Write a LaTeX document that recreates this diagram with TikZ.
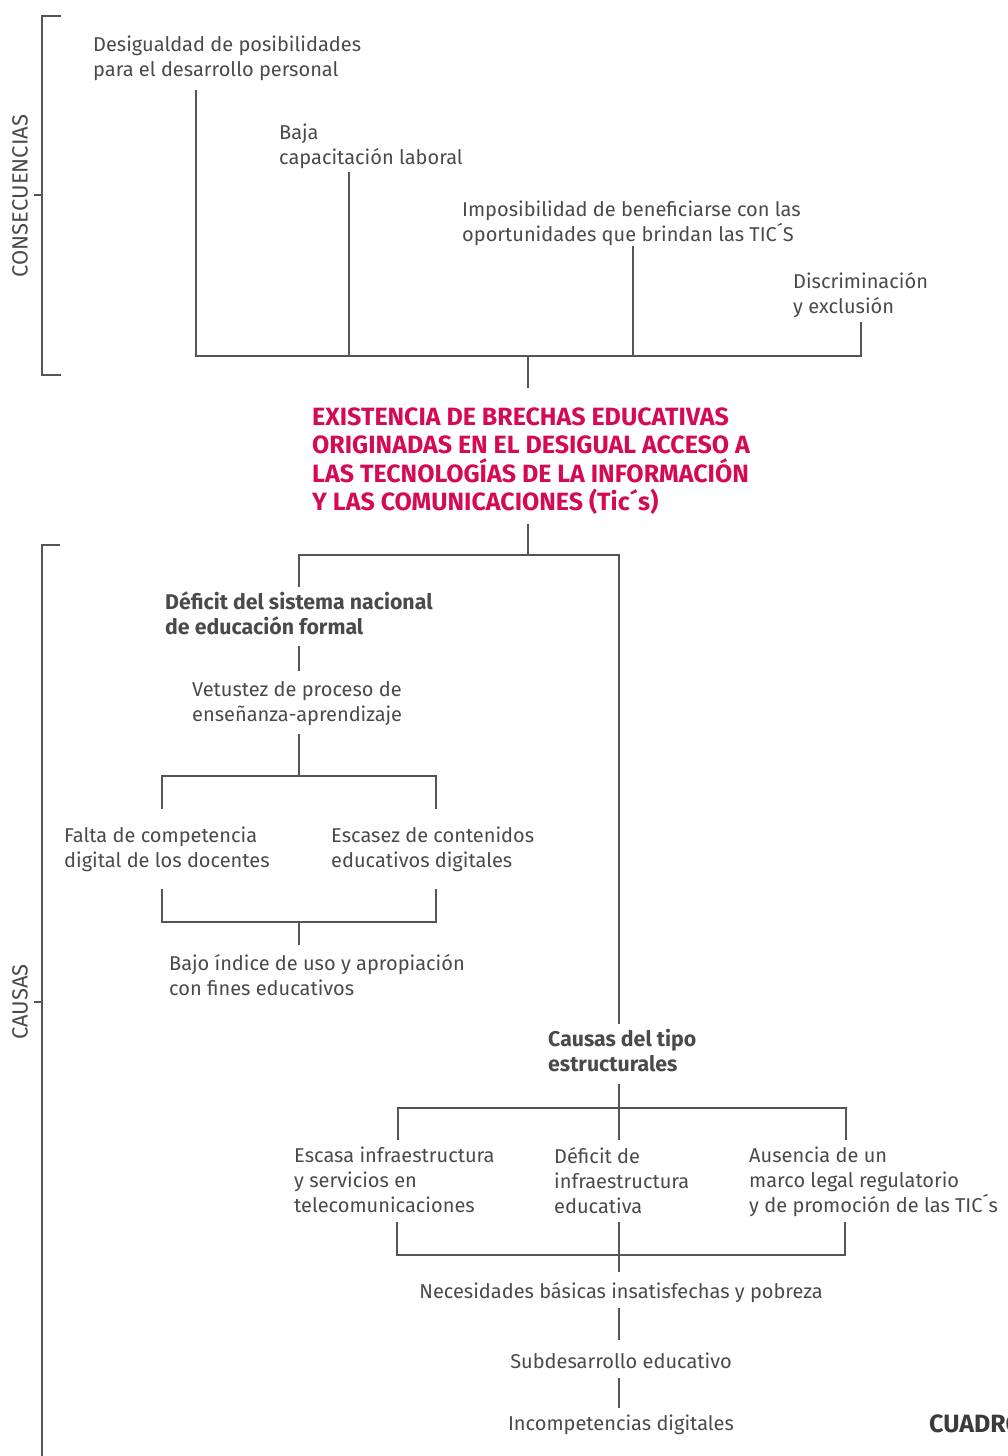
\documentclass[tikz,border=0pt]{standalone}
\usepackage{fontspec}
\setmainfont{Fira Sans}
\definecolor{ink}{HTML}{4A4A4A}
\definecolor{wire}{HTML}{555555}
\definecolor{accent}{HTML}{D50A55}
\begin{document}
\begin{tikzpicture}[x=1pt,y=-1pt,
  wirestyle/.style={draw=wire,line width=1.4pt},
  lbl/.style={anchor=north west,inner sep=0pt,align=left,text=ink,yshift=2.2pt,
    font=\fontsize{20}{25}\selectfont,execute at begin node=\rule{0pt}{13pt}},
  lblc/.style={lbl,anchor=north,align=center},
  lblb/.style={lbl,font=\fontsize{21.3}{25}\selectfont\bfseries,execute at begin node=\rule{0pt}{13.5pt}},
  headline/.style={anchor=north west,inner sep=0pt,align=left,text=accent,
    font=\fontsize{25}{28.5}\selectfont\bfseries},
  sidelbl/.style={rotate=90,inner sep=0pt,text=ink,font=\fontsize{22}{26}\selectfont}]
\useasboundingbox (0,0) rectangle (1008,1456);

% ---------- consequences ----------
\node[sidelbl] (conslbl) at (20,196) {CONSECUENCIAS};
\coordinate (bkTopA) at (61,16);
\coordinate (bkTopB) at (61,375);
\coordinate (bkTopM) at (34,195);
\draw[wirestyle] (bkTopA) -- (42,16) -- (42,375) -- (bkTopB);
\draw[wirestyle] (bkTopM) -- (42,195);

\node[lbl] (c1) at (93,38) {Desigualdad de posibilidades\\para el desarrollo personal};
\node[lbl] (c2) at (279,126) {Baja\\capacitación laboral};
\node[lbl] (c3) at (462,203) {Imposibilidad de beneficiarse con las\\oportunidades que brindan las TIC´S};
\node[lbl] (c4) at (793,274) {Discriminación\\y exclusión};

\coordinate (cA) at (196,90);
\coordinate (cB) at (349,172);
\coordinate (cC) at (633,246);
\coordinate (cD) at (861,322);
\coordinate (hubTop) at (528,356);
\coordinate (rootTop) at (528,388);
\draw[wirestyle] (cA) -- (cA |- hubTop) -- (cD |- hubTop) -- (cD);
\draw[wirestyle] (cB) -- (cB |- hubTop);
\draw[wirestyle] (cC) -- (cC |- hubTop);
\draw[wirestyle] (hubTop) -- (rootTop);

% ---------- central problem ----------
\node[headline] (root) at (312,407.5) {EXISTENCIA DE BRECHAS EDUCATIVAS\\ORIGINADAS EN EL DESIGUAL ACCESO A\\LAS TECNOLOGÍAS DE LA INFORMACIÓN\\Y LAS COMUNICACIONES (Tic´s)};

% ---------- causes ----------
\node[sidelbl] (causlbl) at (20,1002) {CAUSAS};
\coordinate (bkBotA) at (60,545);
\coordinate (bkBotM) at (34,1002);
\draw[wirestyle] (bkBotA) -- (42,545) -- (42,1460);
\draw[wirestyle] (bkBotM) -- (42,1002);

\coordinate (rootBot) at (528,524);
\coordinate (split) at (528,555);
\coordinate (dTop) at (299,587);
\coordinate (sEnd) at (619,1024);
\draw[wirestyle] (rootBot) -- (split);
\draw[wirestyle] (dTop) -- (dTop |- split) -- (sEnd |- split) -- (sEnd);

% left branch
\node[lblb] (d1) at (165,594) {Déficit del sistema nacional\\de educación formal};
\node[lbl] (v1) at (192,683) {Vetustez de proceso de\\enseñanza-aprendizaje};
\node[lbl] (f1) at (64,829) {Falta de competencia\\digital de los docentes};
\node[lbl] (e1) at (331,829) {Escasez de contenidos\\educativos digitales};
\node[lbl] (b1) at (169,956) {Bajo índice de uso y apropiación\\con fines educativos};

\coordinate (dBot) at (299,646);
\coordinate (vTop) at (299,671);
\coordinate (vBot) at (299,734);
\coordinate (fkSplit) at (299,776);
\coordinate (fTop) at (162,809);
\coordinate (eTop) at (436,809);
\coordinate (fBot) at (162,889);
\coordinate (eBot) at (436,889);
\coordinate (fkJoin) at (299,922);
\coordinate (bTop) at (299,945);
\draw[wirestyle] (dBot) -- (vTop);
\draw[wirestyle] (vBot) -- (fkSplit);
\draw[wirestyle] (fTop) -- (fTop |- fkSplit) -- (eTop |- fkSplit) -- (eTop);
\draw[wirestyle] (fBot) -- (fBot |- fkJoin) -- (eBot |- fkJoin) -- (eBot);
\draw[wirestyle] (fkJoin) -- (bTop);

% right branch
\node[lblb] (s1) at (548,1031) {Causas del tipo\\estructurales};
\node[lbl] (i1) at (294,1149) {Escasa infraestructura\\y servicios en\\telecomunicaciones};
\node[lbl] (i2) at (554,1149) {Déficit de\\infraestructura\\educativa};
\node[lbl] (i3) at (749,1149) {Ausencia de un\\marco legal regulatorio\\y de promoción de las TIC´s};
\node[lblc] (n1) at (621,1284) {Necesidades básicas insatisfechas y pobreza};
\node[lblc] (n2) at (621,1355) {Subdesarrollo educativo};
\node[lblc] (n3) at (621,1417) {Incompetencias digitales};

\coordinate (sBot) at (619,1084);
\coordinate (iSplit) at (619,1108);
\coordinate (i1Top) at (398,1140);
\coordinate (i2Top) at (619,1140);
\coordinate (i3Top) at (846,1140);
\coordinate (i1Bot) at (397,1222);
\coordinate (i2Bot) at (619,1222);
\coordinate (i3Bot) at (845,1222);
\coordinate (iJoin) at (619,1255);
\coordinate (n1Top) at (619,1272);
\coordinate (n1Bot) at (619,1308);
\coordinate (n2Top) at (619,1340);
\coordinate (n2Bot) at (619,1378);
\coordinate (n3Top) at (619,1408);
\draw[wirestyle] (sBot) -- (iSplit);
\draw[wirestyle] (i1Top) -- (i1Top |- iSplit) -- (i3Top |- iSplit) -- (i3Top);
\draw[wirestyle] (iSplit) -- (i2Top);
\draw[wirestyle] (i1Bot) -- (i1Bot |- iJoin) -- (i3Bot |- iJoin) -- (i3Bot);
\draw[wirestyle] (i2Bot) -- (n1Top);
\draw[wirestyle] (n1Bot) -- (n2Top);
\draw[wirestyle] (n2Bot) -- (n3Top);

% caption running off the right edge of the page
\node[anchor=base west,inner sep=0pt,text=ink!80!black,font=\fontsize{25}{28}\selectfont\bfseries] (cap) at (929,1432) {CUADRO};
\end{tikzpicture}
\end{document}
